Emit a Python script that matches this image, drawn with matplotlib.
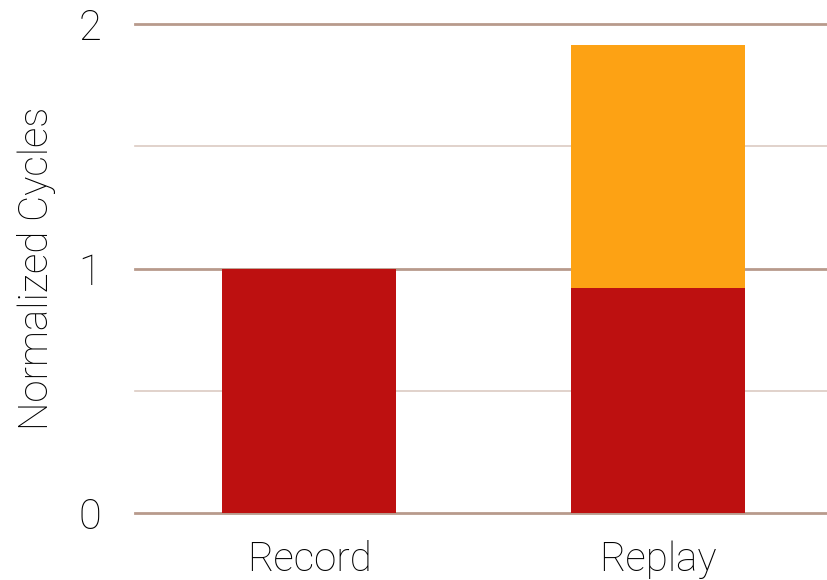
import matplotlib
matplotlib.use("Agg")
from matplotlib import pyplot as plt

categories = ["Record", "Replay"]
base = [1.0, 0.92]
extra = [0.0, 0.995]

plt.rcParams['font.family'] = ['Roboto', 'DejaVu Sans']
plt.rcParams['font.weight'] = 'light'
plt.rcParams['axes.labelweight'] = 'light'

fig = plt.figure(figsize=(8.27, 5.8), dpi=100)
ax = fig.add_axes([0.163, 0.1155, 0.837, 0.843])

x = range(len(categories))
ax.bar(x, base, width=0.5, color='#bd1010', zorder=3)
ax.bar(x, extra, width=0.5, bottom=base, color='#fda214', zorder=3)

# light minor lines, darker major ones
for v in [0.5, 1.5]:
    ax.axhline(v, color='#dccbc2', lw=1.2, zorder=1, clip_on=False)
for v in [0, 1, 2]:
    ax.axhline(v, color='#b89a8c', lw=2, zorder=2, clip_on=False)

ax.set_xlim(-0.5, 1.485)
ax.set_ylim(0, 2)
ax.set_yticks([0, 1, 2])
ax.set_xticks(list(x))
ax.set_xticklabels(categories, fontsize=29)
ax.tick_params(axis='y', labelsize=30, length=0, pad=24)
ax.tick_params(axis='x', length=0, pad=20)
ax.set_ylabel('Normalized Cycles', fontsize=29, labelpad=16)
for s in ax.spines.values():
    s.set_visible(False)

fig.savefig('out.png', dpi=100)
